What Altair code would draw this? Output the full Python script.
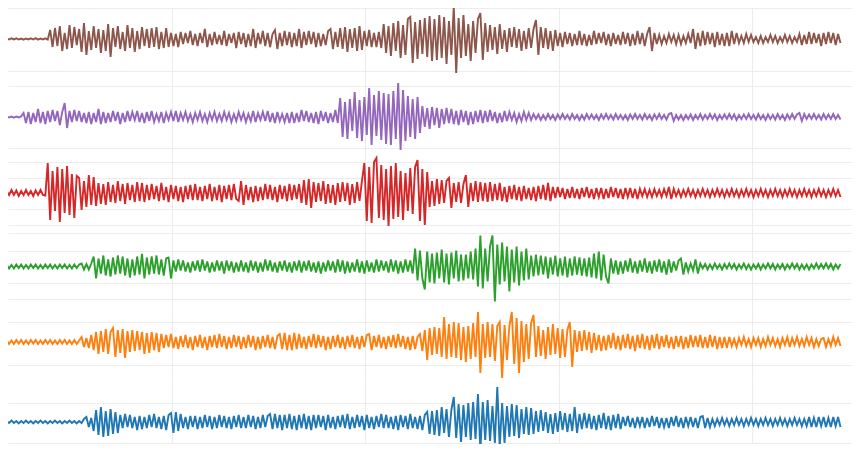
import altair as alt
import pandas as pd

# Amplitudes (offset from each trace's baseline),
# one sample every 1.25 time units starting at t = 12
brown = [
    0.5, -0.6, 0.4, -0.5, 0.7, -0.4, 0.6, -0.5, 0.4, -0.7, 0.5, -0.4, 0.6, -0.5, 0.8, -0.6, 0.5, -0.4, 0.7, -0.6,
    9, -8, 11, -7, 13, -12, 6, -10, 14, -9, 12, -6, 10, -13, 16, -16, 8, -11, 13, -9,
    10, -14, 9, -12, 15, -18, 11, -8, 13, -10, 7, -12, 14, -9, 11, -13, 8, -10, 12, -7,
    10, -9, 11, -8, 12, -10, 7, -9, 11, -8, 6, -7, 5, -8, 7, -5, 6, -4, 8, -6,
    5, -7, 6, -4, 10, -8, 5, -6, 7, -5, 4, -6, 8, -7, 5, -4, 6, -9, 7, -5,
    6, -8, 5, -7, 10, -9, 6, -5, 8, -7, 6, -8, 5, 9, -10, 6, -7, 8, -6, 7,
    -8, 6, -7, 10, -9, 7, -6, 8, -5, 7, -8, 6, -7, 5, -6, 8, 10, -10, 7, -8,
    11, -10, 12, -13, 10, -9, 11, -12, 13, -11, 8, -7, 9, -8, 6, -8, 7, -9, 15, -14,
    13, -17, 16, -12, 18, -19, 14, -16, 20, 22, -24, 17, -20, 19, -15, 21, -18, 23, -22, 20,
    -21, 24, -19, 22, -25, 18, -16, 32, -34, 21, -19, 24, -17, 15, -22, 18, -14, 20, 26, -21,
    16, -13, 14, -11, 12, -15, 15, -10, 9, -13, 11, -8, 12, -9, 10, -12, 8, -10, 11, -9,
    10, 19, -16, 12, -9, 11, -10, 8, -12, 9, -7, 6, -8, 7, -5, 6, -7, 5, -6, 8,
    -6, 5, -7, 4, -6, 8, -5, 6, -4, 7, -6, 5, -7, 6, -5, 4, -6, 7, -5, 6,
    -7, 5, -6, 8, -5, 6, -7, 5, 12, -12, 6, -5, 4, -5, 3, -4, 5, -3, 4, -5,
    4, -5, 3, -4, 5, -4, 10, -10, 6, -7, 8, -6, 7, -5, 6, -8, 7, -6, 5, -7,
    6, -7, 8, -5, 6, -4, 3, -4, 5, -3, 4, -3, 2, -4, 3, -4, 2, -3, 4, -3,
    3, -4, 2, -3, 4, -3, 3, -4, 2, -3, 5, -6, 4, -5, 7, -5, 6, -4, 5, -7,
    6, -5, 7, -4, 6, -6, 5, -4,
]

purple = [
    0.5, -0.4, 0.6, -0.5, 0.4, -0.6, 0.5, -0.4, 0.6, 4, -6, 5, -7, 4, -5, 8, -6, 5, -7, 6,
    -5, 7, -4, 6, -8, 5, 14, -11, 6, -5, 7, -4, 6, -5, 4, -6, 5, -7, 4, -5,
    8, -7, 5, -6, 4, -5, 6, -4, 5, -7, 4, -5, 6, -4, 5, -3, 6, -5, 4, -6,
    5, -4, 6, -5, 3, -4, 5, -6, 4, -3, 5, -4, 6, -5, 4, -3, 5, -4, 3, -5,
    4, -3, 5, -4, 3, -5, 4, -3, 5, -4, 3, -4, 5, -3, 4, -5, 3, -4, 5, -3,
    4, -5, 3, -4, 6, -5, 4, -3, 5, -4, 6, -5, 4, -6, 5, -4, 3, -5, 4, -6,
    5, -6, 4, -5, 7, -4, 6, -5, 4, -6, 5, -7, 6, -4, 5, -6, 4, -5, 7, -6,
    19, -20, 15, -22, 18, -14, 25, -21, 17, -24, 20, -18, 29, -28, 22, -19, 26, -23, 24, -27,
    23, -28, 26, -22, 34, -33, 27, -24, 21, -20, 18, -22, 20, -16, 11, -10, 9, -12, 10, -8,
    9, -11, 8, -7, 9, -6, 8, -7, 6, -8, 7, -5, 6, -8, 5, -7, 6, -5, 7, -6,
    6, -5, 7, -4, 5, -6, 4, -5, 6, -4, 5, -3, 4, -5, 3, -4, 5, -3, 4, -3,
    3, -2, 2.5, -3, 2, -2.5, 3, -2, 2, -3, 2.5, -2, 3, -2, 2, -2.5, 3, -2, 2, -3,
    2, -2.5, 3, -2, 2.5, -2, 2, -3, 2.5, -2, 3, -2, 2, -2.5, 3, -2, 2, -2.5, 2, -3,
    2.5, -2, 3, -2, 2, -2.5, 3, -2, 2, -3, 2.5, -2, 3, -2, 2, -2.5, 3, 4, -4, 2,
    -2.5, 2, -3, 2, -2, 2.5, -3, 2, -2, 3, -2.5, 2, -2, 3, -2, 2.5, -3, 2, -2, 2.5,
    -2, 3, -2, 2.5, -3, 2, -2, 2.5, -2, 3, -2, 2, -2.5, 3, -2, 2, -3, 2.5, -2, 2,
    -2.5, 3, -2, 2, -3, 2.5, -2, 3, -2, 2.5, 4, -4, 3, -2, 2.5, -2, 3, -2, 2, -2.5,
    3, -2, 2.5, -2, 3, -2, 2, -2.5,
]

red = [
    2, -3, 2, -2, 3, -2, 2.5, -3, 2, -2, 3, -2, 2, -3, 2.5, -2, 3, -2, -2.5, 30,
    -27, 22, -18, 26, -29, 24, -20, 27, -22, 19, -25, 17, 15, -17, 12, -14, 18, -12, 16, -13,
    10, -11, 9, -12, 11, -9, 8, -10, 12, -8, 9, -11, 10, -7, 8, -9, 11, -8, 10, -9,
    8, -7, 9, -6, 7, -8, 10, -7, 6, -9, 8, -6, 7, -8, 6, -9, 7, -6, 8, -7,
    9, -7, 6, -8, 7, -6, 9, -8, 6, -7, 8, -9, 7, -6, 8, -7, 9, -6, -8, 12,
    -12, 8, -7, 6, -9, 7, -8, 6, -7, 9, -6, 8, -7, 6, -9, 8, -6, 7, -8, 9,
    -7, 8, -6, 9, -10, 13, -12, 14, -15, 11, -9, 10, -8, 12, -11, 9, -10, 8, -12, 10,
    -9, 11, -8, 10, -12, 9, -10, 11, -8, 12, 30, -28, 26, -30, 31, 35, -25, 28, -27, 24,
    -33, 27, -26, 30, -24, 22, -27, 20, -18, 25, -21, 26, 33, -28, 24, -32, 21, -14, 12, -13,
    14, -11, 13, -10, 12, 15, -15, 10, -9, 11, -10, 9, 18, -14, 10, -8, 12, -9, 11, -8,
    10, -9, 11, -8, 9, -7, 10, -8, 6, -9, 7, -6, 8, -7, 6, -8, 7, -6, 5, -7,
    6, -8, 7, -6, 8, -7, 10, -8, 6, -5, 6, -4, 5, -6, 4, -5, 6, -5, 4, -6,
    5, -4, 6, -5, 4, -6, 5, -4, 5, -6, 4, -5, 6, -4, 5, -5, 4, -6, 5, -4,
    5, -5, 4, -6, 4, -3, 4, -4, 3, -4, 4, -3, 3, -4, 4, -3, 6, -6, 4, -3,
    3, -4, 3, -3, 4, -3, 3, -4, 3, -3, 4, -3, 3, -4, 3, -3, 4, -3, 3, -4,
    3, -3, 4, -3, 3, -4, 3, -3, 4, -3, 3, -4, 3, -3, 4, -3, 3, -4, 3, -3,
    4, -3, 3, -4, 3, -3, 4, -3, 3, -4, 3, -3, 4, -3, 3, -4, 3, -3, 4, -3,
    3, -4, 3, -3, 4, -3, 3, -4,
]

green = [
    2, -1.5, 2, -2, 1.5, -2, 2, -1.5, 2, -2, 1.5, -2, 2, -1.5, 2, -2, 1.5, -2, 2, -1.5,
    2, -2, 1.5, -2, 2, -1.5, 2, -2, 1.5, -2, 2, -1.5, 2, 3, -3, 2.5, -3, 3, 10, -12,
    8, -7, 11, -9, 7, -10, 9, -8, 11, -7, 10, -9, 8, -11, 7, -9, 10, -8, 12.7, -12,
    9, -8, 10, -7, 11, -8, 7, -9, 8, 9, -12, 6, -5, 7, -4, 6, -5, 4, -6, 5,
    -4, 6, -5, 7, -4, 5, -6, 4, -5, 6, -4, 5, -7, 6, -4, 5, -6, 4, -5, 6,
    -5, 4, -6, 6, -4, 5, -6, 4, -5, 7, -4, 6, -5, 4, -6, 5, -4, 6, -5, 4,
    -6, 5, -4, 6, -6, 5, -4, 6, -5, 4, -6, 5, -7, 4, -5, 6, -4, 5, -6, 7,
    -5, 6, -7, 5, -6, 4, -5, 7, -6, 5, -7, 6, -5, 4, -6, 7, -5, 6, -4, 5,
    -6, 7, -5, 6, -7, 5, -6, 7, -5, 6, -7, 18, -14, 16, -12, -23, 15, -16, 13, -17,
    14, -12, 17, -16, 13, -18, 14, -12, 16, -15, 12, -14, 12, -12, 15, -13, 18, -20, 31, -22,
    18, -15, 20, 31, -35, 22, -18, 24, -15, 20, -25, 17, -16, 20, -19, 15, -14, 18, -13, 11,
    -10, 12, -9, 11, -8, 10, -12, 9, -8, 11, -10, 8, -9, 10, -11, 8, -9, 10, -8, 9,
    -9, 8, -10, 9, -11, 13, -12, 15, -14, 12, -10, -17, 8, -7, 6, -8, 5, -7, 6, -5,
    8, -6, 5, -7, 6, -5, 8, -6, 5, -7, 6, -5, 7, -6, 5, -8, 7, -6, 5, -4,
    6, 8, -8, 4, -5, 3, -4, 7, -7, 3, -2, 2.5, -3, 2, -2.5, 3, -2, 2, -3, 2.5,
    -2, 3, -2, 2.5, -3, 2, -2, 3, -2.5, 2, -3, 2, -2, 2.5, -3, 2, -2, 3, -2, 2.5,
    -3, 2, -2, 2.5, -3, 2, -2, 3, -2, 2.5, -3, 2, -2.5, 2, -3, 2, -2, 3, -2, 2.5,
    -2, 3, -2, 2.5, -3, 2, -2, 2.5,
]

orange = [
    2, -1.5, 2, -2, 1.5, -2, 2, -1.5, 2, -2, 1.5, -2, 2, -1.5, 2, -2, 1.5, -2, 2, -1.5,
    2, -2, 1.5, -2, 2, -1.5, 2, -2, 1.5, -2, 2, -2, 1.5, 5, -5, 4, -6, 7, -8, 10,
    -12, 11, -10, 13, -12, 10, 14, -15, 12, -11, 13, -16, 11, -10, 12, -9, 11, -8, 10, -12,
    9, -11, 10, -8, 9, -10, 8, -6, 7, -5, 8, -6, 5, -7, 6, -5, 7, -6, 5, -8,
    6, -5, 7, -6, 5, -8, 6, -5, 7, -6, 8, -5, 6, -7, 5, -6, 7, -5, 6, -7,
    5, -6, 7, -5, 6, -8, 5, -7, 6, -5, 7, -6, 5, -7, 6, 8, -7, 9, -8, 7,
    -8, 9, -7, 8, -6, 5, -7, 6, -5, 8, -6, 7, -5, 6, -8, 5, -7, 6, -5, 7,
    -6, 5, -7, 6, -5, 7, -6, 5, -7, 6, -5, 7, 8, -8, 6, -5, 7, -6, 5, -7,
    6, -5, 7, -6, 8, -5, 6, -7, 5, -8, 6, -7, 5, 8, -9, 12, -18, 14, -13, 15,
    -12, 14, -15, 25, -17, 18, -15, 20, -16, 19, -18, 15, -20, 16, -17, 19, -15, 30, -31, 18,
    -16, 20, -15, 18, -19, 16, 20, -36, 17, -18, 16, 30, -22, 24, -31, 21, -20, 18, -17, 19,
    27, -15, 16, -14, 12, -17, 15, -13, 18, -12, 14, -16, 13, -15, 12, 20, -25, 12, -10, 11,
    -9, 12, -8, 10, -11, 9, -8, 7, -9, 6, -8, 7, -6, 9, -7, 6, -8, 7, -6, 8,
    -7, 6, -9, 7, -6, 8, -7, 6, -8, 7, -6, 8, -7, 6, -5, 7, -6, 5, -7, 6,
    -5, 6, -7, 5, -6, 7, -5, 6, -5, 7, -6, 5, -6, 7, -5, 6, -7, 5, -6, 5,
    -6, 5, -4, 3, -5, 4, -3, 5, -4, 3, -5, 4, -3, 4, -5, 3, -4, 5, -3, 4,
    -4, 3, -5, 4, -3, 5, -5, 4, -3, 5, -4, 3, -4, 5, -3, 4, -5, 3, -4, 3,
    4, -5, 3, -4, 5, -3, 4, -4,
]

blue = [
    1, -1.5, 1, -1, 1.5, -1, 1, -1.5, 1, -1, 1.5, -1, 1, -1.5, 1, -1, 1.5, -1, 1, -1.5,
    1, -1, 1.5, -1, 1, -1.5, 1, -1, 1.5, -1, 1, -1.5, 1, -1, 3, 5, -5, 4, -9, 12,
    -13, 15, -15, 11, -14, 13, -12, 10, -11, 7, -6, 8, -5, 7, -6, 5, -8, 6, -7, 5,
    -6, 7, -5, 8, -6, 5, -7, 6, -8, 7, 9, -11, 10, -9, 8, -6, 5, -7, 6, -5,
    6, -7, 5, -6, 7, -5, 6, -7, 5, -6, 7, -5, 6, -6, 5, -7, 6, -5, 7, -6,
    5, -6, 7, -5, 6, -7, 5, -6, 7, -5, 6, 8, -7, 8, -6, 7, -8, 7, -6, 8,
    -7, 6, -8, 7, -6, 8, -7, 6, -8, 7, -6, 7, -5, 6, -8, 7, -6, 5, -7, 6,
    -5, 7, -6, 8, -7, 5, -6, 7, -5, 6, -8, 7, -6, 5, -7, 6, -5, 8, -6, 7,
    -6, 5, -7, 6, -8, 7, -5, 6, -7, 8, -6, 5, -7, 6, -8, 7, 10, -12, 11, -13,
    12, -14, 15, -11, 13, -15, 12, 25, -16, 18, -20, 17, -15, 19, -18, 20, -17, 28, -28, 20,
    -18, 22, -19, 16, -21, 35, -25, 19, -21, 16, -15, 18, -14, 17, -16, 13, -12, 15, -13, 14,
    -12, 11, -10, 12, -9, 10, -11, 8, -12, 9, -10, 11, -8, 9, -10, 8, -9, 15, -11, 8,
    -7, 9, -6, 8, -7, 6, -8, 7, -6, 9, -7, 6, -8, 7, -6, 8, -7, 5, -4, 6,
    -5, 4, -6, 5, -4, 5, -6, 4, -5, 6, -4, 5, -6, 4, -5, 4, -6, 5, -4, 6,
    -5, 4, -6, 5, -4, 5, -5, 4, -6, 5, 6, -6, 4, -5, 3, -4, 3, -3, 4, -3,
    3, -4, 3, -3, 4, -3, 3, -4, 3, -3, 4, -3, 3, -4, 3, -3, 4, -3, 3, -4,
    3, -3, 4, -3, 3, -4, 3, -3, 4, -3, 3, -4, 3, -4, 5, -5, 4, -5, 5, -4,
    5, -5, 4, -5, 5, -4, 5, -5,
]

T0, DT = 12, 1.25
X_DOMAIN = [15.2, 451.7]
X_GRID = [100, 200, 300, 400]
GRID_COLOR = "#ececec"

# (values, colour, panel height, y domain, y grid values)
panels = [
    (brown, "#8c564b", 70, [-39, 31], [31, -32]),
    (purple, "#9467bd", 77, [-38, 39], [31, -31]),
    (red, "#d62728", 74, [-36, 38], [31, 15, -16, -32]),
    (green, "#2ca02c", 75, [-37.5, 37.5], [33.5, 15.5, -16.5, -32.5]),
    (orange, "#ff7f0e", 78, [-40, 38], [20, -23]),
    (blue, "#1f77b4", 62, [-22, 40], [19, -21]),
]


def panel(vals, color, h, dom, grid):
    df = pd.DataFrame({"t": [T0 + DT * i for i in range(len(vals))], "v": vals})
    return alt.Chart(df).mark_line(color=color, strokeWidth=1.9, clip=True).encode(
        x=alt.X("t:Q", title=None,
                scale=alt.Scale(domain=X_DOMAIN, nice=False, zero=False),
                axis=alt.Axis(values=X_GRID, labels=False, ticks=False, domain=False,
                              grid=True, gridColor=GRID_COLOR, minExtent=0, maxExtent=0)),
        y=alt.Y("v:Q", title=None,
                scale=alt.Scale(domain=dom, nice=False, zero=False),
                axis=alt.Axis(values=grid, labels=False, ticks=False, domain=False,
                              grid=True, gridColor=GRID_COLOR, minExtent=0, maxExtent=0)),
    ).properties(width=844, height=h)


chart = alt.vconcat(*[panel(*p) for p in panels], spacing=0).properties(
    padding=0
).configure_view(strokeWidth=0)

chart.save("out.html", embed_options={"renderer": "svg", "actions": False})
